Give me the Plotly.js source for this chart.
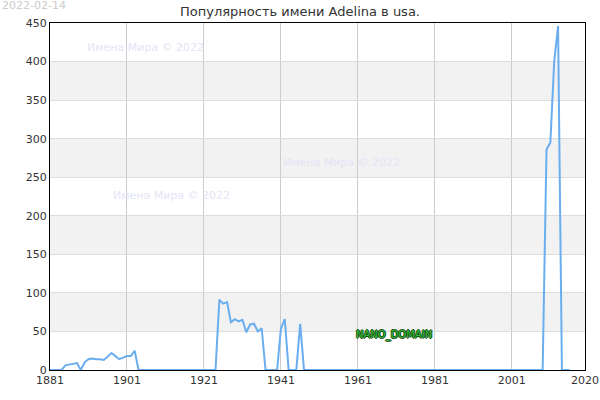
<!DOCTYPE html>
<html>
<head>
<meta charset="utf-8">
<script src="https://cdn.plot.ly/plotly-3.0.1.min.js"></script>
<style>
  html, body { margin: 0; padding: 0; background: #fff; }
  #chart { width: 600px; height: 400px; }
</style>
</head>
<body>
<div id="chart"></div>
<script>
var years = [
  1881, 1882, 1883, 1884, 1885, 1886, 1887, 1888, 1889, 1890,
  1891, 1892, 1893, 1894, 1895, 1896, 1897, 1898, 1899, 1900,
  1901, 1902, 1903, 1904, 1905, 1906, 1907, 1908, 1909, 1910,
  1911, 1912, 1913, 1914, 1915, 1916, 1917, 1918, 1919, 1920,
  1921, 1922, 1923, 1924, 1925, 1926, 1927, 1928, 1929, 1930,
  1931, 1932, 1933, 1934, 1935, 1936, 1937, 1938, 1939, 1940,
  1941, 1942, 1943, 1944, 1945, 1946, 1947, 1948, 1949, 1950,
  1951, 1952, 1953, 1954, 1955, 1956, 1957, 1958, 1959, 1960,
  1961, 1962, 1963, 1964, 1965, 1966, 1967, 1968, 1969, 1970,
  1971, 1972, 1973, 1974, 1975, 1976, 1977, 1978, 1979, 1980,
  1981, 1982, 1983, 1984, 1985, 1986, 1987, 1988, 1989, 1990,
  1991, 1992, 1993, 1994, 1995, 1996, 1997, 1998, 1999, 2000,
  2001, 2002, 2003, 2004, 2005, 2006, 2007, 2008, 2009, 2010,
  2011, 2012, 2013, 2014, 2015, 2016
];
var counts = [
  0, 0, 0, 0, 6, 7, 8, 9, 0, 10,
  14, 15, 14, 14, 13, 18, 22, 18, 14, 16,
  18, 18, 25, 0, 0, 0, 0, 0, 0, 0,
  0, 0, 0, 0, 0, 0, 0, 0, 0, 0,
  0, 0, 0, 0, 91, 86, 88, 62, 66, 63,
  65, 49, 59, 60, 50, 54, 0, 0, 0, 0,
  54, 66, 0, 0, 0, 60, 0, 0, 0, 0,
  0, 0, 0, 0, 0, 0, 0, 0, 0, 0,
  0, 0, 0, 0, 0, 0, 0, 0, 0, 0,
  0, 0, 0, 0, 0, 0, 0, 0, 0, 0,
  0, 0, 0, 0, 0, 0, 0, 0, 0, 0,
  0, 0, 0, 0, 0, 0, 0, 0, 0, 0,
  0, 0, 0, 0, 0, 0, 0, 0, 0, 286,
  295, 400, 446, 0, 0, 0
];
var xTicks = [1881, 1901, 1921, 1941, 1961, 1981, 2001, 2020];
var yTicks = [0, 50, 100, 150, 200, 250, 300, 350, 400, 450];
var bandStarts = [50, 150, 250, 350];

var font = 'DejaVu Sans, sans-serif';

// shaded horizontal bands
var shapes = bandStarts.map(function(b) {
  return {type: 'rect', xref: 'paper', yref: 'y', x0: 0, x1: 1, y0: b, y1: b + 50,
          fillcolor: '#f2f2f2', line: {width: 0}, layer: 'below'};
});

var mark = 'Имена Мира © 2022';
var markStyle = {family: font, size: 11, color: '#e4e4f6'};
var markSpots = [[0.178, 0.928], [0.544, 0.599], [0.228, 0.504]];
var annotations = markSpots.map(function(p) {
  return {text: mark, xref: 'paper', yref: 'paper', x: p[0], y: p[1],
          xanchor: 'center', yanchor: 'middle', showarrow: false, font: markStyle};
});
annotations.push({text: 'NANO_DOMAIN', xref: 'paper', yref: 'paper', x: 0.643, y: 0.101,
  xanchor: 'center', yanchor: 'middle', showarrow: false,
  font: {family: font, size: 10, color: '#33bb33',
         shadow: '1px 0 0 #0b4a0b, -1px 0 0 #0b4a0b, 0 1px 0 #0b4a0b, 0 -1px 0 #0b4a0b'}});
annotations.push({text: '2022-02-14', xref: 'paper', yref: 'paper', x: -0.0935, y: 1.05,
  xanchor: 'left', yanchor: 'middle', showarrow: false,
  font: {family: font, size: 11, color: '#cccccc'}});

var trace = {
  x: years, y: counts, type: 'scatter', mode: 'lines',
  line: {color: '#6aaef0', width: 2},
  hoverinfo: 'x+y'
};

var layout = {
  width: 600, height: 400,
  margin: {l: 50, r: 15, t: 23, b: 30},
  paper_bgcolor: '#fff', plot_bgcolor: '#fff',
  showlegend: false,
  title: {text: 'Популярность имени Adelina в usa.', font: {family: font, size: 13, color: '#333'},
          xref: 'container', x: 0.5, y: 0.9725, yanchor: 'middle'},
  xaxis: {range: [1881, 2020], tickvals: xTicks, ticktext: xTicks.map(String),
          showgrid: true, gridcolor: '#cccccc', gridwidth: 1,
          showline: true, linecolor: '#000', linewidth: 1, mirror: true,
          zeroline: false, ticks: '', tickfont: {family: font, size: 11, color: '#333'}},
  yaxis: {range: [0, 450], tickvals: yTicks,
          showgrid: true, gridcolor: '#dddddd', gridwidth: 1,
          showline: true, linecolor: '#000', linewidth: 1, mirror: true,
          zeroline: false, ticks: '', tickfont: {family: font, size: 11, color: '#333'}},
  shapes: shapes,
  annotations: annotations
};

Plotly.newPlot('chart', [trace], layout, {displayModeBar: false, staticPlot: true});
</script>
</body>
</html>
